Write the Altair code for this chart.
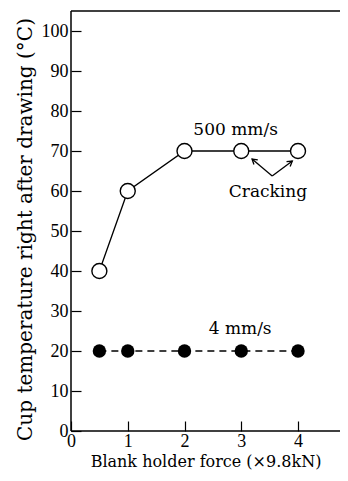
import altair as alt
import pandas as pd

# ---- data ----
force_500 = [0.5, 1, 2, 3, 4]
temp_500 = [40, 60, 70, 70, 70]
force_4 = [0.5, 1, 2, 3, 4]
temp_4 = [20, 20, 20, 20, 20]

x_ticks = [0, 1, 2, 3, 4]
y_ticks = list(range(0, 101, 10))
X_MAX = 4.74
Y_MAX = 105

label_texts = ["500 mm/s", "Cracking", "4 mm/s"]
label_x = [2.90, 3.47, 2.98]
label_y = [75.25, 59.75, 25.5]

arrow_tail_x = [3.545, 3.545]
arrow_tail_y = [63.75, 63.75]
arrow_head_x = [3.19, 3.90]
arrow_head_y = [68.0, 67.5]
arrow_angle = [310, 53]

SERIF = "DejaVu Serif"
NUM = "Liberation Serif"

xs = alt.Scale(domain=[0, X_MAX], nice=False, zero=False)
ys = alt.Scale(domain=[0, Y_MAX], nice=False, zero=False)

x_axis = alt.Axis(values=x_ticks, title="Blank holder force (×9.8kN)", offset=-10,
                  tickSize=10, tickWidth=1.2, tickColor="black", domain=False, grid=False,
                  labelPadding=1, format="d", labelFont=NUM, labelFontSize=18,
                  labelColor="black", labelFlush=False, labelOverlap=False,
                  titleFont=SERIF, titleFontSize=16, titleFontWeight="normal",
                  titleColor="black", titlePadding=3)
y_axis = alt.Axis(values=y_ticks, title="Cup temperature right after drawing (°C)", offset=-10,
                  tickSize=10, tickWidth=1.2, tickColor="black", domain=False, grid=False,
                  labelPadding=3, format="d", labelFont=NUM, labelFontSize=18,
                  labelColor="black", labelFlush=False, labelOverlap=False,
                  titleFont=SERIF, titleFontSize=20, titleFontWeight="normal",
                  titleColor="black", titlePadding=6, titleY=218)

X = alt.X("x:Q", scale=xs, axis=x_axis)
Y = alt.Y("y:Q", scale=ys, axis=y_axis)

df500 = pd.DataFrame({"x": force_500, "y": temp_500})
df4 = pd.DataFrame({"x": force_4, "y": temp_4})

frame = pd.DataFrame({
    "x": [0, 0, 0], "y": [0, 0, Y_MAX],
    "x2": [0, X_MAX, X_MAX], "y2": [Y_MAX, 0, Y_MAX],
})
frame_layer = alt.Chart(frame).mark_rule(color="black", strokeWidth=1.5).encode(
    x=X, y=Y, x2="x2:Q", y2="y2:Q")

line500 = alt.Chart(df500).mark_line(color="black", strokeWidth=1.3).encode(x=X, y=Y)
pts500 = alt.Chart(df500).mark_point(shape="circle", filled=True, fill="white",
                                     stroke="black", strokeWidth=1.4, size=225,
                                     opacity=1).encode(x=X, y=Y)
line4 = alt.Chart(df4).mark_line(color="black", strokeWidth=1.3,
                                 strokeDash=[7, 5]).encode(x=X, y=Y)
pts4 = alt.Chart(df4).mark_point(shape="circle", filled=True, color="black",
                                 size=180, opacity=1).encode(x=X, y=Y)

lab = pd.DataFrame({"x": label_x, "y": label_y, "t": label_texts})
text_layer = alt.Chart(lab).mark_text(font=SERIF, fontSize=17, color="black",
                                      align="center", baseline="middle").encode(
    x=X, y=Y, text="t:N")

arr = pd.DataFrame({"x": arrow_tail_x, "y": arrow_tail_y,
                    "x2": arrow_head_x, "y2": arrow_head_y})
arrow_lines = alt.Chart(arr).mark_rule(color="black", strokeWidth=1.3).encode(
    x=X, y=Y, x2="x2:Q", y2="y2:Q")
heads = pd.DataFrame({"x": arrow_head_x, "y": arrow_head_y, "a": arrow_angle})
arrow_heads = alt.Chart(heads).mark_point(shape="M-0.6,1L0,0L0.6,1", filled=False,
                                          stroke="black", strokeWidth=1.3, size=100,
                                          opacity=1).encode(
    x=X, y=Y, angle=alt.Angle("a:Q", scale=None))

chart = alt.layer(frame_layer, line500, line4, pts500, pts4, text_layer,
                  arrow_lines, arrow_heads).properties(
    width=269, height=420,
    autosize=alt.AutoSizeParams(type="none"),
    padding={"left": 63, "top": 3, "right": 0, "bottom": 42},
    background="white",
).configure_view(stroke=None)

chart.save("out.html", embed_options={"renderer": "svg", "actions": False})
